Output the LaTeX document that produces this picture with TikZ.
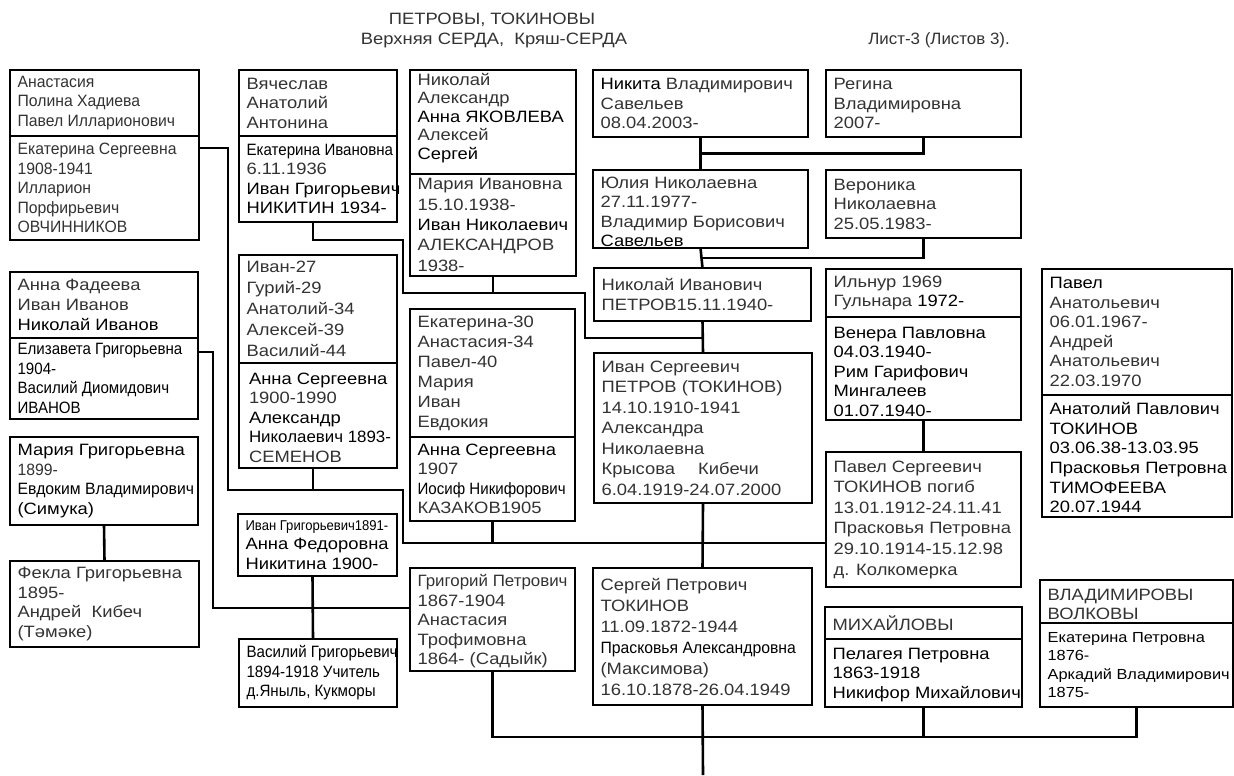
\documentclass[tikz,border=0pt]{standalone}
\usepackage{fontspec}
\setmainfont{Liberation Sans}[FakeStretch=1.12]
\newfontfamily\af{Liberation Sans}[FakeStretch=0.96]
\newfontfamily\cf{Liberation Sans}[FakeStretch=0.96]
\newfontfamily\nf{Liberation Sans}[FakeStretch=0.92]
\newfontfamily\mf{Liberation Sans}[FakeStretch=1.03]
\usetikzlibrary{calc}
\definecolor{txtc}{gray}{0.2}
\newcommand\dk[1]{\textcolor{black}{#1}}
\newcommand\Bx[7][]{%
  \pgfmathsetlengthmacro\Bxw{(#5-#3)*0.5pt}%
  \pgfmathsetlengthmacro\Bxh{(#6-#4)*0.5pt}%
  \node[bx,anchor=north west,minimum width=\Bxw,minimum height=\Bxh] (#2) at (#3,#4) {};%
  \node[tx,anchor=west,#1] (#2t) at ([xshift=3.6pt]#2.west) {#7};}
\tikzset{
  bx/.style={draw=black,line width=1.3pt,inner sep=0pt,outer sep=0pt},
  tx/.style={align=left,inner sep=0pt,text=txtc,font=\fontsize{8.2}{9.75}\selectfont},
  ln/.style={draw=black,line width=1.3pt},
}
\begin{document}
\begin{tikzpicture}[x=0.5pt,y=-0.5pt]
\useasboundingbox[fill=white] (0,0) rectangle (1234,775);
% titles
\node[tx] (t1) at (492,20) {ПЕТРОВЫ, ТОКИНОВЫ};
\node[tx] (t2) at (494,40) {Верхняя СЕРДА,\ \ Кряш-СЕРДА};
\node[tx,anchor=west,font=\mf\fontsize{8.2}{9.75}\selectfont] (t3) at (868,40) {Лист-3 (Листов 3).};
% boxes
\Bx[font=\af\fontsize{8.2}{9.75}\selectfont]{Aup}{10}{70}{199}{136}{Анастасия\\Полина Хадиева\\Павел Илларионович}
\Bx[font=\af\fontsize{8.2}{9.75}\selectfont]{Alow}{10}{136}{199}{240}{Екатерина Сергеевна\\1908-1941\\Илларион\\Порфирьевич\\ОВЧИННИКОВ}
\Bx{Bup}{239}{70}{397}{136}{Вячеслав\\Анатолий\\Антонина}
\Bx{Blow}{239}{136}{397}{222}{{\nf\dk{Екатерина Ивановна}}\\6.11.1936\\\dk{Иван Григорьевич}\\\dk{НИКИТИН 1934-}}
\Bx[font=\fontsize{8.2}{9.25}\selectfont,yshift=2pt]{Cup}{410}{70}{576}{174}{Николай\\Александр\\\dk{Анна ЯКОВЛЕВА}\\Алексей\\\dk{Сергей}}
\Bx[font=\fontsize{8.2}{10.2}\selectfont]{Clow}{410}{174}{576}{276}{Мария Ивановна\\15.10.1938-\\\dk{Иван Николаевич}\\АЛЕКСАНДРОВ\\1938-}
\Bx{D}{593}{70}{808}{137}{\dk{Никита} Владимирович\\Савельев\\08.04.2003-}
\Bx{Rg}{826}{70}{1021}{137}{Регина\\Владимировна\\2007-}
\Bx[yshift=-1.5pt]{E}{593}{170}{808}{248}{Юлия Николаевна\\27.11.1977-\\Владимир Борисович\\\dk{Савельев}}
\Bx{Vr}{826}{170}{1021}{238}{Вероника\\Николаевна\\25.05.1983-}
\Bx{NI}{594}{268}{811}{321}{Николай Иванович\\ПЕТРОВ15.11.1940-}
\Bx[font=\fontsize{8.2}{10.5}\selectfont]{Fup}{239}{255}{397}{363}{Иван-27\\Гурий-29\\Анатолий-34\\Алексей-39\\Василий-44}
\Bx[yshift=-1pt,xshift=1.2pt]{Flow}{239}{363}{397}{468}{\dk{Анна Сергеевна}\\1900-1990\\\dk{Александр}\\\dk{\mf Николаевич 1893-}\\СЕМЕНОВ}
\Bx[font=\fontsize{8.2}{10}\selectfont]{Gup}{10}{272}{198}{338}{Анна Фадеева\\Иван Иванов\\\dk{Николай Иванов}}
\Bx[font=\nf\fontsize{8.2}{9.75}\selectfont,text=black]{Glow}{10}{338}{198}{419}{Елизавета Григорьевна\\1904-\\Василий Диомидович\\ИВАНОВ}
\Bx{H}{10}{437}{198}{525}{\dk{Мария Григорьевна}\\{\cf 1899-}\\{\cf\dk{Евдоким Владимирович}}\\\dk{(Симука)}}
\Bx[font=\fontsize{8.2}{10}\selectfont]{Iup}{410}{309}{575}{437}{Екатерина-30\\Анастасия-34\\Павел-40\\Мария\\Иван\\Евдокия}
\Bx{Ilow}{410}{437}{575}{521}{\dk{Анна Сергеевна}\\1907\\{\nf\dk{Иосиф Никифорович}}\\КАЗАКОВ1905}
\Bx[font=\fontsize{8.2}{10.25}\selectfont]{J}{594}{353}{812}{503}{Иван Сергеевич\\ПЕТРОВ (ТОКИНОВ)\\14.10.1910-1941\\Александра\\Николаевна\\Крысова\hspace{9pt} Кибечи\\6.04.1919-24.07.2000}
\Bx{Kup}{826}{269}{1021}{317}{Ильнур 1969\\Гульнара \dk{1972-}}
\Bx[text=black,yshift=-1.5pt]{Klow}{826}{317}{1021}{420}{Венера Павловна\\04.03.1940-\\Рим Гарифович\\Мингалеев\\01.07.1940-}
\Bx{Lup}{1042}{269}{1232}{395}{\dk{Павел}\\Анатольевич\\06.01.1967-\\Андрей\\Анатольевич\\22.03.1970}
\Bx[text=black,font=\fontsize{8.2}{9.85}\selectfont,yshift=-0.8pt]{Llow}{1042}{395}{1232}{517}{Анатолий Павлович\\ТОКИНОВ\\03.06.38-13.03.95\\Прасковья Петровна\\ТИМОФЕЕВА\\20.07.1944}
\Bx[font=\fontsize{8.2}{10.3}\selectfont]{M}{826}{452}{1021}{587}{Павел Сергеевич\\ТОКИНОВ погиб\\13.01.1912-24.11.41\\Прасковья Петровна\\29.10.1914-15.12.98\\д. Колкомерка}
\Bx{Fk}{10}{561}{199}{647}{Фекла Григорьевна\\1895-\\Андрей\ \ Кибеч\\(Тәмәке)}
\Bx{IG}{238}{514}{397}{576}{{\nf\fontsize{7.1}{9.75}\selectfont\dk{Иван Григорьевич1891-}}\\\dk{Анна Федоровна}\\\dk{Никитина 1900-}}
\Bx[font=\nf\fontsize{8.2}{9.75}\selectfont,text=black]{VG}{239}{639}{397}{707}{Василий Григорьевич\\1894-1918 Учитель\\д.Яныль, Кукморы}
\Bx[yshift=-1pt]{N}{410}{568}{575}{671}{{\mf Григорий Петрович}\\1867-1904\\Анастасия\\Трофимовна\\1864- (Садыйк)}
\Bx[font=\fontsize{8.2}{10.5}\selectfont]{O}{593}{568}{812}{705}{Сергей Петрович\\ТОКИНОВ\\11.09.1872-1944\\{\cf\dk{Прасковья Александровна}}\\(Максимова)\\16.10.1878-26.04.1949}
\Bx{Pup}{825}{607}{1022}{639}{МИХАЙЛОВЫ}
\Bx[text=black,yshift=-1pt]{Plow}{825}{639}{1022}{707}{Пелагея Петровна\\1863-1918\\Никифор Михайлович}
\Bx[yshift=-1.5pt]{Qup}{1040}{580}{1233}{623}{ВЛАДИМИРОВЫ\\ВОЛКОВЫ}
\Bx[font=\fontsize{7.3}{9.3}\selectfont,text=black]{Qlow}{1040}{623}{1233}{707}{Екатерина Петровна\\1876-\\Аркадий Владимирович\\1875-}
% junction coordinates
\coordinate (c1) at (403,240);
\coordinate (c2) at (403,293);
\coordinate (c3) at (585,293);
\coordinate (c4) at (585,338);
\coordinate (a1) at (228,148);
\coordinate (d1) at (403,490);
\coordinate (d2) at (403,543);
\coordinate (g1) at (213,352);
\coordinate (g2) at (213,608);
\coordinate (b1) at (0,737);
\coordinate (bot) at (703,775);
% connectors
\draw[ln] (D.south) -- (E.north);
\draw[ln] ($(D.south)!0.5!(E.north)$) -| (Rg.south);
\draw[ln] (E.south) -- (NI.north);
\draw[ln] ($(E.south)!0.5!(NI.north)$) -| (Vr.south);
\draw[ln] (NI.south) -- (J.north);
\draw[ln] ([xshift=-2.5pt]Blow.south) |- (c1) -- (c2) -- (c3) -- (c4) -- (NI.south |- c4);
\draw[ln] (Clow.south) -- (Clow.south |- c2);
\draw[ln] (a1 -| Alow.east) -- (a1) |- (d1) -- (d2) -- (d2 -| M.west);
\draw[ln] ([xshift=-2.5pt]Flow.south) -- ([xshift=-2.5pt]Flow.south |- d1);
\draw[ln] (Ilow.south) -- (Ilow.south |- d2);
\draw[ln] (J.south) -- (O.north);
\draw[ln] (g1 -| Glow.east) -- (g1) -- (g2) -- (g2 -| N.west);
\draw[ln] (H.south) -- (Fk.north);
\draw[ln] ($(H.south)!0.5!(Fk.north)$) -- ($(H.south)!0.5!(Fk.north)$ -| g1);
\draw[ln] ([xshift=-2.5pt]IG.south) -- ([xshift=-2.5pt]VG.north);
\draw[ln] (N.south) |- (Qlow.south |- b1) -- (Qlow.south);
\draw[ln] (O.south) -- (bot);
\draw[ln] (Plow.south) -- (Plow.south |- b1);
\draw[ln] (Klow.south) -- (M.north);
\draw[ln] ($(Klow.south)!0.5!(M.north)$) -- ($(Klow.south)!0.5!(M.north)$ -| Llow.west);
\end{tikzpicture}
\end{document}
